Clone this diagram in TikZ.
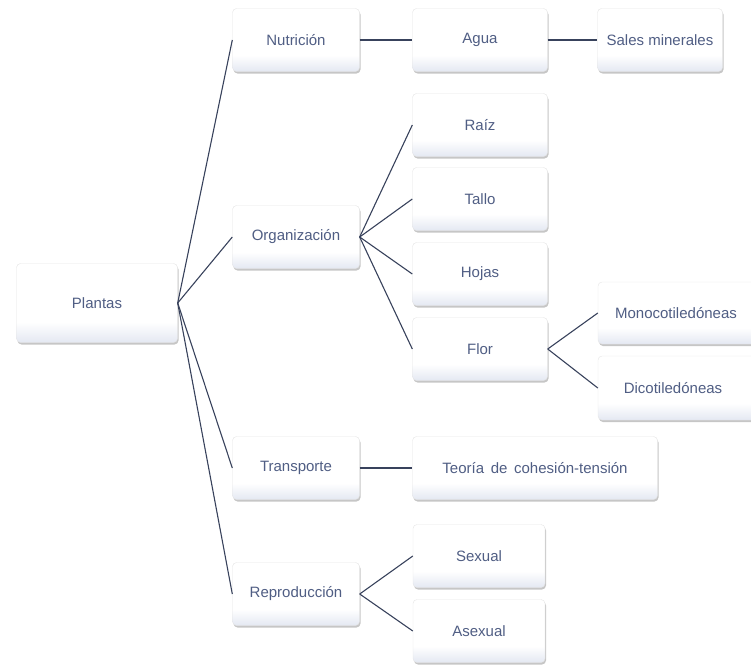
\documentclass[tikz,border=0pt]{standalone}
\usepackage{fontspec}
\setmainfont{Liberation Sans}
\usetikzlibrary{shadows}
\definecolor{textoazul}{RGB}{80,94,132}
\definecolor{lineaazul}{RGB}{56,66,92}
\definecolor{fondocaja}{RGB}{228,232,242}
\pgfdeclareverticalshading{cajafondo}{100bp}{color(0bp)=(fondocaja); color(25bp)=(fondocaja); color(38bp)=(white); color(100bp)=(white)}
\begin{document}
\begin{tikzpicture}[x=1pt,y=-1pt,
    caja/.style={rounded corners=4pt, draw=black!10, shading=cajafondo,
      drop shadow={shadow xshift=1pt, shadow yshift=-2pt, opacity=0.45},
      text=textoazul, font=\fontsize{15}{18}\selectfont, minimum width=127pt, minimum height=63pt, inner sep=2pt},
    rama/.style={draw=lineaazul, line width=1.1pt}
]
\useasboundingbox (0,0) rectangle (751,664);
% raiz del mapa
\node[caja, minimum width=161pt, minimum height=79pt] (plantas) at (97,303) {Plantas};
% primer nivel
\node[caja] (nutricion) at (296,40) {Nutrición};
\node[caja] (organizacion) at (296,237) {Organización};
\node[caja] (transporte) at (296,468) {Transporte};
\node[caja] (reproduccion) at (296,594) {Reproducción};
% segundo nivel
\node[caja, minimum width=135pt] (agua) at (480,40) {Agua};
\node[caja, minimum width=125pt] (sales) at (660,40) {Sales minerales};
\node[caja, minimum width=135pt] (raiz) at (480,125) {Raíz};
\node[caja, minimum width=135pt] (tallo) at (480,199) {Tallo};
\node[caja, minimum width=135pt] (hojas) at (480,274) {Hojas};
\node[caja, minimum width=135pt] (flor) at (480,349) {Flor};
\node[caja, minimum width=162pt, minimum height=62pt] (mono) at (679,313) {\hspace*{-6pt}Monocotiledóneas};
\node[caja, minimum width=162pt, minimum height=64pt] (dico) at (679,388) {\hspace*{-12pt}Dicotiledóneas};
\node[caja, minimum width=245pt] (teoria) at (535,468) {Teoría\, de\, cohesión-tensión};
\node[caja, minimum width=132pt] (sexual) at (479,556) {Sexual};
\node[caja, minimum width=132pt] (asexual) at (479,631) {Asexual};
% conexiones
\foreach \h in {nutricion,organizacion,transporte,reproduccion}
  \draw[rama] (plantas.east) -- (\h.west);
\foreach \h in {raiz,tallo,hojas,flor}
  \draw[rama] (organizacion.east) -- (\h.west);
\foreach \h in {mono,dico}
  \draw[rama] (flor.east) -- (\h.west);
\foreach \h in {sexual,asexual}
  \draw[rama] (reproduccion.east) -- (\h.west);
\draw[rama] (nutricion) -- (agua);
\draw[rama] (agua) -- (sales);
\draw[rama] (transporte) -- (teoria);
\end{tikzpicture}
\end{document}
